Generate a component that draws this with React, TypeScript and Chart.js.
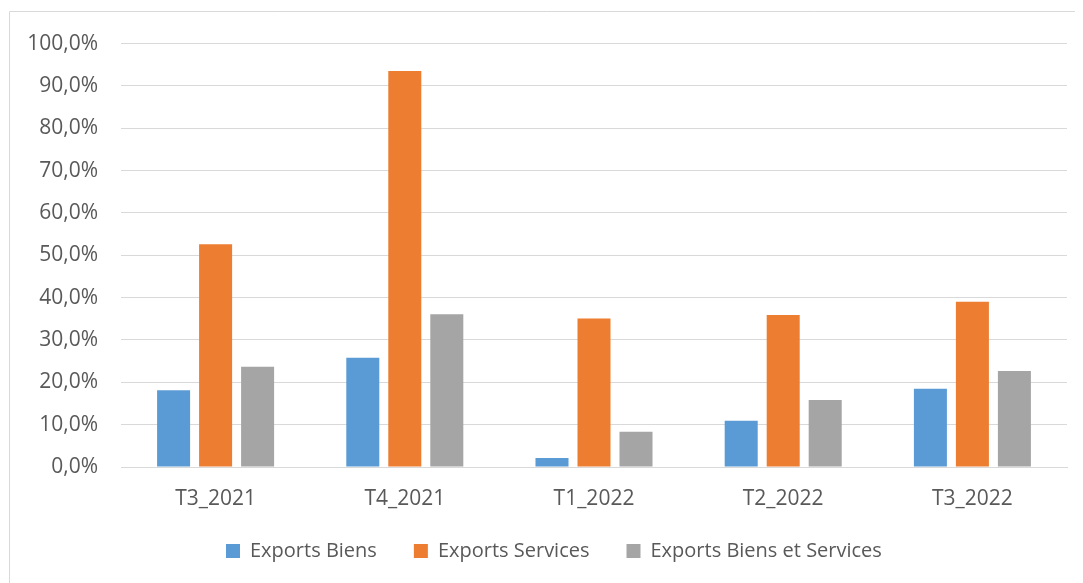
import React, { useEffect, useRef } from "react";
import { Chart, registerables } from "chart.js";

Chart.register(...registerables);

const categories = ["T3_2021", "T4_2021", "T1_2022", "T2_2022", "T3_2022"];
const exportsBiens = [18.1, 25.8, 2.1, 10.9, 18.5];
const exportsServices = [52.6, 93.5, 35.1, 35.9, 39.0];
const exportsBiensServices = [23.7, 36.1, 8.3, 15.8, 22.7];
const seriesLabels = ["Exports Biens", "Exports Services", "Exports Biens et Services"];
const seriesColors = ["#5B9BD5", "#ED7D31", "#A5A5A5"];

const TEXT = "#595959";
const GRID = "#D9D9D9";
const LEGEND_PAD = 37;

const framePlugin = {
  id: "frame",
  beforeDraw(chart: any) {
    const { ctx, width, height } = chart;
    ctx.save();
    ctx.strokeStyle = GRID;
    ctx.lineWidth = 1;
    ctx.beginPath();
    ctx.moveTo(1.5, height);
    ctx.lineTo(1.5, 3.5);
    ctx.lineTo(width, 3.5);
    ctx.stroke();
    ctx.restore();
  },
};

const legendPlace = {
  id: "legendPlace",
  beforeLayout(chart: any) {
    const l = chart.legend;
    if (l && !l.__patched) {
      const orig = l.fit.bind(l);
      l.fit = function () {
        orig();
        this.height = 70;
      };
      l.__patched = true;
    }
  },
  afterLayout(chart: any) {
    const l = chart.legend;
    if (l) {
      const w = l.right - l.left;
      l.left = 218 - LEGEND_PAD;
      l.right = l.left + w;
      l.top = 496;
      l.bottom = l.top + l.height;
    }
  },
};

export default function App() {
  const ref = useRef<HTMLCanvasElement | null>(null);

  useEffect(() => {
    if (!ref.current) return;
    const chart = new Chart(ref.current, {
      type: "bar",
      data: {
        labels: categories,
        datasets: [
          { label: seriesLabels[0], data: exportsBiens, backgroundColor: seriesColors[0], borderWidth: 0 },
          { label: seriesLabels[1], data: exportsServices, backgroundColor: seriesColors[1], borderWidth: 0 },
          { label: seriesLabels[2], data: exportsBiensServices, backgroundColor: seriesColors[2], borderWidth: 0 },
        ],
      },
      options: {
        responsive: false,
        animation: false,
        layout: { padding: { top: 34, right: 16, bottom: 0, left: 0 } },
        datasets: {
          bar: { categoryPercentage: 0.666, barPercentage: 0.786 },
        },
        plugins: {
          legend: {
            position: "bottom",
            align: "start",
            labels: {
              color: TEXT,
              boxWidth: 14,
              boxHeight: 14,
              padding: LEGEND_PAD,
              font: { family: "'Open Sans', sans-serif", size: 20 },
            },
          },
          tooltip: { enabled: false },
        },
        scales: {
          x: {
            grid: { display: false, drawTicks: false },
            border: { display: true, color: GRID, width: 1 },
            ticks: {
              color: TEXT,
              padding: 19,
              font: { family: "'Open Sans', sans-serif", size: 21 },
            },
            afterFit(scale: any) {
              scale.height = 46;
            },
          },
          y: {
            min: 0,
            max: 100,
            grid: { color: GRID, lineWidth: 1, drawTicks: false },
            border: { display: false },
            ticks: {
              stepSize: 10,
              color: TEXT,
              padding: 23,
              font: { family: "'Open Sans', sans-serif", size: 21 },
              callback: (v: any) => Number(v).toFixed(1).replace(".", ",") + "%",
            },
            afterFit(scale: any) {
              scale.width = 113;
            },
          },
        },
      },
      plugins: [framePlugin, legendPlace],
    });
    return () => chart.destroy();
  }, []);

  return (
    <canvas
      ref={ref}
      width={1075}
      height={575}
      style={{ display: "block", width: 1075, height: 575 }}
    />
  );
}
